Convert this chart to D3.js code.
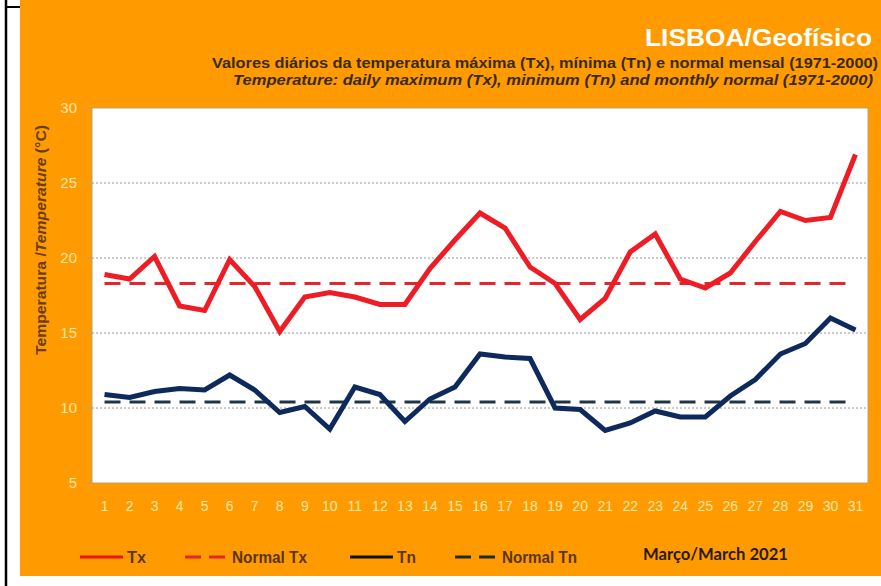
<!DOCTYPE html>
<html>
<head>
<meta charset="utf-8">
<script src="https://cdn.jsdelivr.net/npm/d3@7"></script>
<style>
  body { margin: 0; background: #fff; }
  svg { display: block; font-family: "Liberation Sans", Arial, sans-serif; }
</style>
</head>
<body>
<div id="container"></div>
<script>
const days = d3.range(1, 32);
const tx = [18.9, 18.6, 20.1, 16.8, 16.5, 19.9, 18.1, 15.1, 17.4, 17.7, 17.4, 16.9, 16.9, 19.3, 21.2,
  23.0, 22.0, 19.4, 18.3, 15.9, 17.3, 20.4, 21.6, 18.6, 18.0, 19.0, 21.1, 23.1, 22.5, 22.7, 26.9];
const tn = [10.9, 10.7, 11.1, 11.3, 11.2, 12.2, 11.2, 9.7, 10.1, 8.6, 11.4, 10.9, 9.1, 10.6, 11.4,
  13.6, 13.4, 13.3, 10.0, 9.9, 8.5, 9.0, 9.8, 9.4, 9.4, 10.8, 11.9, 13.6, 14.3, 16.0, 15.2];
const normalTx = 18.3;
const normalTn = 10.4;
const yTicks = [5, 10, 15, 20, 25, 30];

const W = 881, H = 586;
const plot = { left: 92, right: 868, top: 108, bottom: 483 };

const svg = d3.select("#container").append("svg")
  .attr("width", W).attr("height", H);

// frame
svg.append("rect").attr("x", 0).attr("y", 0).attr("width", W).attr("height", H).attr("fill", "#fff");
svg.append("rect").attr("x", 20).attr("y", 0).attr("width", W - 20).attr("height", 576).attr("fill", "#FF9A00");
svg.append("line").attr("x1", 6).attr("x2", 6).attr("y1", 0).attr("y2", H).attr("stroke", "#000").attr("stroke-width", 2.5);
svg.append("line").attr("x1", 6).attr("x2", 20).attr("y1", 7).attr("y2", 7).attr("stroke", "#000").attr("stroke-width", 2);

const x = d3.scaleBand().domain(days).range([plot.left, plot.right]);
const xc = (d) => x(d) + x.bandwidth() / 2;
const y = d3.scaleLinear().domain([5, 30]).range([plot.bottom, plot.top]);

svg.append("rect")
  .attr("x", plot.left).attr("y", plot.top)
  .attr("width", plot.right - plot.left).attr("height", plot.bottom - plot.top)
  .attr("fill", "#fff").attr("stroke", "#b8a27a").attr("stroke-width", 1);

// gridlines
svg.append("g").selectAll("line")
  .data(yTicks.filter((t) => t > 5 && t < 30))
  .join("line")
  .attr("x1", plot.left).attr("x2", plot.right)
  .attr("y1", (d) => y(d)).attr("y2", (d) => y(d))
  .attr("stroke", "#9a9a9a").attr("stroke-width", 1).attr("stroke-dasharray", "2,2");

// y axis
const yAxis = svg.append("g")
  .attr("transform", `translate(${plot.left},0)`)
  .call(d3.axisLeft(y).tickValues(yTicks).tickSize(6).tickPadding(9));
yAxis.select(".domain").remove();
yAxis.selectAll(".tick line").attr("stroke", "#b8a27a");
yAxis.selectAll(".tick text").attr("fill", "#FFE7A6").attr("font-size", 15);

// x axis labels
const xAxis = svg.append("g")
  .attr("transform", `translate(0,${plot.bottom})`)
  .call(d3.axisBottom(x).tickSize(0).tickPadding(18));
xAxis.select(".domain").remove();
xAxis.selectAll(".tick text").attr("fill", "#FFE7A6").attr("font-size", 14);

// normals
const dashed = (val, color) => svg.append("line")
  .attr("x1", xc(1)).attr("x2", xc(31) - 6)
  .attr("y1", y(val)).attr("y2", y(val))
  .attr("stroke", color).attr("stroke-width", 3)
  .attr("stroke-dasharray", "16,9");
dashed(normalTx, "#E3262B");
dashed(normalTn, "#1E3546");

const line = d3.line().x((d, i) => xc(days[i])).y((d) => y(d));
svg.append("path").datum(tx).attr("d", line)
  .attr("fill", "none").attr("stroke", "#EE1C24").attr("stroke-width", 5)
  .attr("stroke-linejoin", "miter");
svg.append("path").datum(tn).attr("d", line)
  .attr("fill", "none").attr("stroke", "#0E2A5C").attr("stroke-width", 5)
  .attr("stroke-linejoin", "miter");

// titles
svg.append("text").attr("x", 872).attr("y", 46).attr("text-anchor", "end")
  .attr("fill", "#fff").attr("font-size", 23).attr("font-weight", "bold")
  .attr("textLength", 227).attr("lengthAdjust", "spacingAndGlyphs")
  .text("LISBOA/Geofísico");
svg.append("text").attr("x", 878).attr("y", 68).attr("text-anchor", "end")
  .attr("fill", "#3a2a10").attr("font-size", 14).attr("font-weight", "bold")
  .attr("textLength", 666).attr("lengthAdjust", "spacingAndGlyphs")
  .text("Valores diários da temperatura máxima (Tx), mínima (Tn) e normal mensal  (1971-2000)");
svg.append("text").attr("x", 873).attr("y", 85).attr("text-anchor", "end")
  .attr("fill", "#3a2a10").attr("font-size", 14).attr("font-weight", "bold").attr("font-style", "italic")
  .attr("textLength", 640).attr("lengthAdjust", "spacingAndGlyphs")
  .text("Temperature: daily maximum  (Tx), minimum (Tn) and  monthly normal  (1971-2000)");

// y label
const yl = svg.append("text")
  .attr("transform", "translate(46,240) rotate(-90)")
  .attr("text-anchor", "middle").attr("fill", "#6b3d0a")
  .attr("font-size", 15).attr("font-weight", "bold")
  .attr("textLength", 230).attr("lengthAdjust", "spacingAndGlyphs");
yl.append("tspan").text("Temperatura /");
yl.append("tspan").attr("font-style", "italic").text("Temperature");
yl.append("tspan").text(" (°C)");

// legend
const legend = [
  { label: "Tx", color: "#E8141C", dash: null, x: 80, w: 19 },
  { label: "Normal Tx", color: "#E3262B", dash: "16,8", x: 185, w: 75 },
  { label: "Tn", color: "#111", dash: null, x: 350, w: 19 },
  { label: "Normal Tn", color: "#1E2A2A", dash: "16,8", x: 455, w: 75 },
];
const lg = svg.append("g").selectAll("g").data(legend).join("g")
  .attr("transform", (d) => `translate(${d.x},557)`);
lg.append("line").attr("x1", 0).attr("x2", 43).attr("y1", 0).attr("y2", 0)
  .attr("stroke", (d) => d.color).attr("stroke-width", 3)
  .attr("stroke-dasharray", (d) => d.dash);
lg.append("text").attr("x", 47).attr("y", 6)
  .attr("fill", "#5a3510").attr("font-size", 16).attr("font-weight", "bold")
  .attr("textLength", (d) => d.w).attr("lengthAdjust", "spacingAndGlyphs")
  .text((d) => d.label);

svg.append("text").attr("x", 643).attr("y", 560)
  .attr("fill", "#2a1a05").attr("font-size", 17).attr("font-weight", "bold")
  .attr("font-family", "Lato, 'Open Sans', sans-serif")
  .attr("textLength", 145).attr("lengthAdjust", "spacingAndGlyphs")
  .text("Março/March 2021");
</script>
</body>
</html>
